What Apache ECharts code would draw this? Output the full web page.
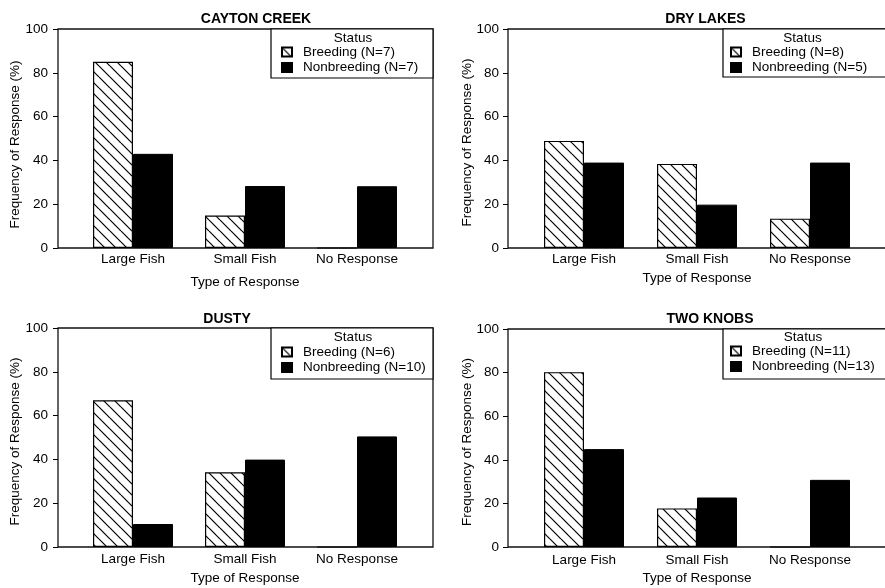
<!DOCTYPE html>
<html><head><meta charset="utf-8">
<script src="https://cdn.jsdelivr.net/npm/echarts@6/dist/echarts.min.js"></script>
<style>html,body{margin:0;padding:0;background:#fff}#c{width:885px;height:588px}</style>
</head><body><div id="c"></div>
<script>
// ---- data ----
const categories = ['Large Fish', 'Small Fish', 'No Response'];
const panelTitles = ['CAYTON CREEK', 'DRY LAKES', 'DUSTY', 'TWO KNOBS'];
const breedingN = [7, 8, 6, 11];
const nonbreedingN = [7, 5, 10, 13];
const caytonBreeding = [85, 14.8, 0];
const caytonNonbreeding = [43, 28.3, 28.2];
const dryBreeding = [48.9, 38.4, 13.4];
const dryNonbreeding = [39, 19.8, 39];
const dustyBreeding = [67, 34.1, 0];
const dustyNonbreeding = [10.5, 39.9, 50.5];
const knobsBreeding = [80.2, 17.7, 0];
const knobsNonbreeding = [44.9, 22.7, 30.8];
const yMin = 0, yMax = 100, yStep = 20;
const xAxisName = 'Type of Response';
const yAxisName = 'Frequency of Response (%)';
const legendTitle = 'Status';

const breedingSets = [caytonBreeding, dryBreeding, dustyBreeding, knobsBreeding];
const nonbreedingSets = [caytonNonbreeding, dryNonbreeding, dustyNonbreeding, knobsNonbreeding];

// ---- layout ----
const FONT = '"Liberation Sans", Arial, Helvetica, sans-serif';
const FS = 13.5;
const layout = [
  {fl:58, ft:29, fw:375, fh:219, dl:77, dw:336, title:[256,19.5], yNameGap:36, yNamePad:6, xNameGap:27, xLabelMargin:4, yLabelMargin:10,
   box:[271,29,162,49], status:[353,38], legLeft:281, legTop:45},
  {fl:508, ft:29, fw:378, fh:219, dl:527.5, dw:339, title:[705.5,19.5], yNameGap:34, yNamePad:4, xNameGap:23, xLabelMargin:4, yLabelMargin:9,
   box:[723,29,170,48], status:[802.5,38], legLeft:730, legTop:45},
  {fl:58, ft:328, fw:375, fh:219, dl:77, dw:336, title:[227,318.7], yNameGap:36, yNamePad:4, xNameGap:24, xLabelMargin:5, yLabelMargin:10,
   box:[271,328,162,51], status:[353,337], legLeft:281, legTop:345},
  {fl:508, ft:329, fw:378, fh:218, dl:527.5, dw:339, title:[710,319.5], yNameGap:34, yNamePad:4, xNameGap:24, xLabelMargin:6, yLabelMargin:9,
   box:[723,329,170,50], status:[803,337], legLeft:730, legTop:344}
];

// hatch pattern
const HS = 11;
const hc = document.createElement('canvas');
hc.width = HS; hc.height = HS;
const g = hc.getContext('2d');
g.fillStyle = '#fff'; g.fillRect(0, 0, HS, HS);
g.strokeStyle = '#000'; g.lineWidth = 1.2;
[-HS, 0, HS].forEach(c => { g.beginPath(); g.moveTo(0, c); g.lineTo(HS, HS + c); g.stroke(); });
const hatch = {image: hc, repeat: 'repeat'};

const grid = [], xAxis = [], yAxis = [], series = [], legend = [], graphic = [];
layout.forEach((L, i) => {
  // data grid
  grid.push({left: L.dl, top: L.ft, width: L.dw, height: L.fh, show: false, outerBoundsMode: 'none', containLabel: false});
  xAxis.push({
    type: 'category', gridIndex: i, data: categories,
    axisLine: {show: false}, axisTick: {show: false},
    axisLabel: {color: '#000', fontSize: FS, fontFamily: FONT, margin: L.xLabelMargin},
    name: xAxisName, nameLocation: 'middle', nameGap: L.xNameGap, nameMoveOverlap: false,
    nameTextStyle: {color: '#000', fontSize: FS, fontFamily: FONT}
  });
  yAxis.push({
    type: 'value', gridIndex: i, min: yMin, max: yMax, interval: yStep,
    offset: L.dl - L.fl,
    axisLine: {show: false},
    axisTick: {show: true, length: 5, lineStyle: {color: '#000', width: 1}},
    splitLine: {show: false},
    axisLabel: {color: '#000', fontSize: FS, fontFamily: FONT, margin: L.yLabelMargin},
    name: yAxisName, nameLocation: 'middle', nameGap: L.yNameGap, nameRotate: 90, nameMoveOverlap: false,
    nameTextStyle: {color: '#000', fontSize: FS, fontFamily: FONT, padding: [0, L.yNamePad * 2, 0, 0]}
  });
  const bName = 'Breeding (N=' + breedingN[i] + ')';
  const nName = 'Nonbreeding (N=' + nonbreedingN[i] + ')';
  series.push({
    type: 'bar', name: bName, xAxisIndex: i, yAxisIndex: i, data: breedingSets[i],
    barWidth: 40, barGap: '0%',
    itemStyle: {color: hatch, borderColor: '#000', borderWidth: 1.2}
  });
  series.push({
    type: 'bar', name: nName, xAxisIndex: i, yAxisIndex: i, data: nonbreedingSets[i],
    barWidth: 40, barGap: '0%',
    itemStyle: {color: '#000', borderColor: '#000', borderWidth: 1}
  });
  legend.push({
    data: [bName, nName], orient: 'vertical', left: L.legLeft, top: L.legTop,
    itemWidth: 10, itemHeight: 9, itemGap: 1.5, icon: 'rect', padding: 0, selectedMode: false,
    textStyle: {color: '#000', fontSize: FS, fontFamily: FONT, lineHeight: 14, padding: [0, 0, 0, 6]}
  });
  graphic.push({
    type: 'rect', z: 1, shape: {x: L.box[0], y: L.box[1], width: L.box[2], height: L.box[3]},
    style: {fill: '#fff', stroke: '#000', lineWidth: 1.2}
  });
  graphic.push({
    type: 'text', z: 5, x: L.status[0], y: L.status[1],
    style: {text: legendTitle, fill: '#000', font: FS + 'px ' + FONT, textAlign: 'center', textVerticalAlign: 'middle'}
  });
  graphic.push({
    type: 'text', z: 5, x: L.title[0], y: L.title[1],
    style: {text: panelTitles[i], fill: '#000', font: 'bold 14px ' + FONT, textAlign: 'center', textVerticalAlign: 'middle'}
  });
});
// frame grids
layout.forEach((L, i) => {
  const gi = 4 + i;
  grid.push({left: L.fl, top: L.ft, width: L.fw, height: L.fh, show: true, borderColor: '#111', borderWidth: 1.3,
             backgroundColor: 'transparent', outerBoundsMode: 'none', containLabel: false});
  xAxis.push({type: 'value', gridIndex: gi, show: false, min: 0, max: 1});
  yAxis.push({type: 'value', gridIndex: gi, show: false, min: 0, max: 1});
});

const chart = echarts.init(document.getElementById('c'), null, {renderer: 'canvas'});
chart.setOption({
  animation: false,
  backgroundColor: '#fff',
  textStyle: {fontFamily: FONT},
  grid, xAxis, yAxis, series, legend, graphic
});
</script>
</body></html>
